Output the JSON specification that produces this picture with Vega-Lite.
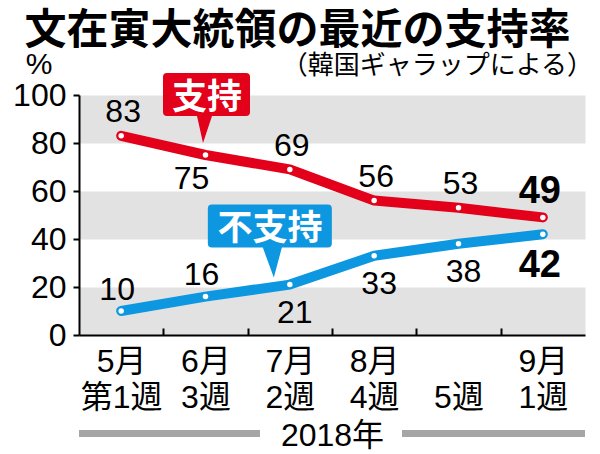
{
  "$schema": "https://vega.github.io/schema/vega-lite/v6.json",
  "description": "文在寅大統領の最近の支持率（韓国ギャラップによる）",
  "autosize": {"type": "none"},
  "width": 506,
  "height": 240,
  "padding": {"left": 79, "top": 95, "right": 15, "bottom": 119},
  "background": "#FFFFFF",
  "config": {"view": {"stroke": null}},
  "title": {
    "text": "文在寅大統領の最近の支持率",
    "font": "Noto Sans CJK JP",
    "fontSize": 42,
    "fontWeight": "bold",
    "color": "black",
    "anchor": "middle",
    "frame": "group",
    "dx": -34.5,
    "dy": 46,
    "offset": 9,
    "baseline": "alphabetic"
  },
  "data": {
    "values": [
      {"week": "5月第1週", "i": 0, "series": "支持", "value": 83},
      {"week": "6月3週", "i": 1, "series": "支持", "value": 75},
      {"week": "7月2週", "i": 2, "series": "支持", "value": 69},
      {"week": "8月4週", "i": 3, "series": "支持", "value": 56},
      {"week": "8月5週", "i": 4, "series": "支持", "value": 53},
      {"week": "9月1週", "i": 5, "series": "支持", "value": 49},
      {"week": "5月第1週", "i": 0, "series": "不支持", "value": 10},
      {"week": "6月3週", "i": 1, "series": "不支持", "value": 16},
      {"week": "7月2週", "i": 2, "series": "不支持", "value": 21},
      {"week": "8月4週", "i": 3, "series": "不支持", "value": 33},
      {"week": "8月5週", "i": 4, "series": "不支持", "value": 38},
      {"week": "9月1週", "i": 5, "series": "不支持", "value": 42}
    ]
  },
  "resolve": {"axis": {"x": "independent", "y": "independent"}},
  "layer": [
    {
      "mark": {"type": "line", "strokeWidth": 10, "strokeCap": "round", "strokeJoin": "round"},
      "encoding": {
        "x": {
          "field": "i",
          "type": "quantitative",
          "scale": {"domain": [-0.5, 5.5], "nice": false, "zero": false},
          "axis": {
            "orient": "bottom",
            "values": [0, 1, 2, 3, 4, 5],
            "labelExpr": "[['5月','第1週'],['6月','3週'],['7月','2週'],['8月','4週'],['','5週'],['9月','1週']][datum.value]",
            "ticks": false,
            "tickSize": 0,
            "labelPadding": 11,
            "labelFont": "Liberation Sans, Noto Sans CJK JP",
            "labelFontSize": 32,
            "labelLineHeight": 36,
            "labelBaseline": "top",
            "labelAlign": "center",
            "labelColor": "black",
            "labelOverlap": false,
            "labelFlush": false,
            "labelBound": false,
            "domain": true,
            "domainColor": "black",
            "domainWidth": 2,
            "grid": false,
            "title": "2018年",
            "titleFont": "Liberation Sans, Noto Sans CJK JP",
            "titleFontSize": 32,
            "titleFontWeight": "normal",
            "titleColor": "black",
            "titleBaseline": "middle",
            "titleY": 100,
            "zindex": 1
          }
        },
        "y": {
          "field": "value",
          "type": "quantitative",
          "scale": {"domain": [0, 100], "nice": false},
          "axis": {
            "orient": "left",
            "values": [0, 20, 40, 60, 80, 100],
            "grid": false,
            "domain": true,
            "domainColor": "black",
            "domainWidth": 2,
            "ticks": true,
            "tickSize": 6,
            "tickWidth": 2,
            "tickColor": "black",
            "labelFont": "Liberation Sans",
            "labelFontSize": 32,
            "labelColor": "black",
            "labelPadding": 7,
            "labelFlush": false,
            "labelOverlap": false,
            "title": "%",
            "titleAngle": 0,
            "titleFont": "Liberation Sans",
            "titleFontSize": 30,
            "titleFontWeight": "normal",
            "titleColor": "black",
            "titleAlign": "center",
            "titleBaseline": "middle",
            "titleX": -40.5,
            "titleY": -31,
            "zindex": 1
          }
        },
        "color": {
          "field": "series",
          "type": "nominal",
          "scale": {"domain": ["支持", "不支持"], "range": ["#e3001b", "#0d97e0"]},
          "legend": null
        }
      }
    },
    {
      "mark": {"type": "point", "filled": true, "color": "white", "opacity": 1, "size": 30},
      "encoding": {
        "x": {
          "field": "i",
          "type": "quantitative",
          "axis": {
            "orient": "bottom",
            "values": [0.5, 1.5, 2.5, 3.5, 4.5],
            "ticks": true,
            "tickSize": -7,
            "tickWidth": 2,
            "tickColor": "black",
            "labels": false,
            "domain": false,
            "grid": false,
            "title": null,
            "zindex": 1
          }
        },
        "y": {
          "field": "value",
          "type": "quantitative",
          "axis": {
            "orient": "left",
            "values": [10, 50, 90],
            "grid": true,
            "gridColor": "#e2e2e2",
            "gridWidth": 48,
            "gridOpacity": 1,
            "gridCap": "butt",
            "domain": false,
            "ticks": false,
            "labels": false,
            "title": null,
            "zindex": 0
          }
        },
        "detail": {"field": "series"}
      }
    },
    {
      "transform": [{"filter": "datum.series == '支持' && datum.i == 1"}],
      "mark": {
        "type": "point",
        "shape": "M-38.5,-82 H40.5 Q44.5,-82 44.5,-78 V-43 Q44.5,-39 40.5,-39 H6.5 L-2.5,-12 L-8.5,-39 H-38.5 Q-42.5,-39 -42.5,-43 V-78 Q-42.5,-82 -38.5,-82 Z",
        "size": 4,
        "filled": true,
        "opacity": 1,
        "strokeWidth": 0
      },
      "encoding": {
        "x": {"field": "i", "type": "quantitative", "axis": null},
        "y": {"field": "value", "type": "quantitative", "axis": null},
        "color": {"field": "series", "type": "nominal", "legend": null}
      }
    },
    {
      "transform": [{"filter": "datum.series == '不支持' && datum.i == 2"}],
      "mark": {
        "type": "point",
        "shape": "M-78,-80 H38 Q42,-80 42,-76 V-41 Q42,-37 38,-37 H-8 L-16,-7 L-27,-37 H-78 Q-82,-37 -82,-41 V-76 Q-82,-80 -78,-80 Z",
        "size": 4,
        "filled": true,
        "opacity": 1,
        "strokeWidth": 0
      },
      "encoding": {
        "x": {"field": "i", "type": "quantitative", "axis": null},
        "y": {"field": "value", "type": "quantitative", "axis": null},
        "color": {"field": "series", "type": "nominal", "legend": null}
      }
    },
    {
      "transform": [{"filter": "datum.series == '支持' && datum.i == 1"}],
      "mark": {"type": "text", "font": "Noto Sans CJK JP", "fontSize": 35, "fontWeight": "bold", "color": "white", "align": "center", "baseline": "middle", "dx": 1.5, "dy": -56.7},
      "encoding": {
        "x": {"field": "i", "type": "quantitative", "axis": null},
        "y": {"field": "value", "type": "quantitative", "axis": null},
        "text": {"field": "series"}
      }
    },
    {
      "transform": [{"filter": "datum.series == '不支持' && datum.i == 2"}],
      "mark": {"type": "text", "font": "Noto Sans CJK JP", "fontSize": 35, "fontWeight": "bold", "color": "white", "align": "center", "baseline": "middle", "dx": -19.8, "dy": -55.2},
      "encoding": {
        "x": {"field": "i", "type": "quantitative", "axis": null},
        "y": {"field": "value", "type": "quantitative", "axis": null},
        "text": {"field": "series"}
      }
    },
    {
      "transform": [{"filter": "datum.series == '支持' && datum.i != 1 && datum.i != 5"}],
      "mark": {"type": "text", "font": "Liberation Sans", "fontSize": 32, "color": "black", "align": "center", "baseline": "middle", "dx": 2, "dy": -23.5},
      "encoding": {
        "x": {"field": "i", "type": "quantitative", "axis": null},
        "y": {"field": "value", "type": "quantitative", "axis": null},
        "text": {"field": "value"}
      }
    },
    {
      "transform": [{"filter": "datum.series == '支持' && datum.i == 1"}],
      "mark": {"type": "text", "font": "Liberation Sans", "fontSize": 32, "color": "black", "align": "center", "baseline": "middle", "dx": -14, "dy": 24},
      "encoding": {
        "x": {"field": "i", "type": "quantitative", "axis": null},
        "y": {"field": "value", "type": "quantitative", "axis": null},
        "text": {"field": "value"}
      }
    },
    {
      "transform": [{"filter": "datum.series == '不支持' && datum.i < 2"}],
      "mark": {"type": "text", "font": "Liberation Sans", "fontSize": 32, "color": "black", "align": "center", "baseline": "middle", "dx": -4, "dy": -21.5},
      "encoding": {
        "x": {"field": "i", "type": "quantitative", "axis": null},
        "y": {"field": "value", "type": "quantitative", "axis": null},
        "text": {"field": "value"}
      }
    },
    {
      "transform": [{"filter": "datum.series == '不支持' && datum.i >= 2 && datum.i < 5"}],
      "mark": {"type": "text", "font": "Liberation Sans", "fontSize": 32, "color": "black", "align": "center", "baseline": "middle", "dx": 5, "dy": 28},
      "encoding": {
        "x": {"field": "i", "type": "quantitative", "axis": null},
        "y": {"field": "value", "type": "quantitative", "axis": null},
        "text": {"field": "value"}
      }
    },
    {
      "transform": [{"filter": "datum.series == '支持' && datum.i == 5"}],
      "mark": {"type": "text", "font": "Liberation Sans", "fontSize": 38, "fontWeight": "bold", "color": "black", "align": "center", "baseline": "middle", "dx": -3, "dy": -25.5},
      "encoding": {
        "x": {"field": "i", "type": "quantitative", "axis": null},
        "y": {"field": "value", "type": "quantitative", "axis": null},
        "text": {"field": "value"}
      }
    },
    {
      "transform": [{"filter": "datum.series == '不支持' && datum.i == 5"}],
      "mark": {"type": "text", "font": "Liberation Sans", "fontSize": 38, "fontWeight": "bold", "color": "black", "align": "center", "baseline": "middle", "dx": -3, "dy": 31.5},
      "encoding": {
        "x": {"field": "i", "type": "quantitative", "axis": null},
        "y": {"field": "value", "type": "quantitative", "axis": null},
        "text": {"field": "value"}
      }
    },
    {
      "data": {"values": [{}]},
      "mark": {"type": "text", "text": "（韓国ギャラップによる）", "font": "Noto Sans CJK JP", "fontSize": 26, "color": "black", "align": "right", "baseline": "middle", "dx": 8, "dy": -29},
      "encoding": {
        "x": {"datum": 5.5, "type": "quantitative", "axis": null},
        "y": {"datum": 100, "type": "quantitative", "axis": null}
      }
    },
    {
      "data": {"values": [{}]},
      "mark": {"type": "rule", "color": "#a6a6a6", "strokeWidth": 7, "strokeCap": "butt", "clip": false},
      "encoding": {
        "x": {"datum": -0.5, "type": "quantitative", "axis": null},
        "x2": {"datum": 1.646},
        "y": {"datum": -41, "type": "quantitative", "axis": null}
      }
    },
    {
      "data": {"values": [{}]},
      "mark": {"type": "rule", "color": "#a6a6a6", "strokeWidth": 7, "strokeCap": "butt", "clip": false},
      "encoding": {
        "x": {"datum": 3.33, "type": "quantitative", "axis": null},
        "x2": {"datum": 5.5},
        "y": {"datum": -41, "type": "quantitative", "axis": null}
      }
    }
  ]
}
